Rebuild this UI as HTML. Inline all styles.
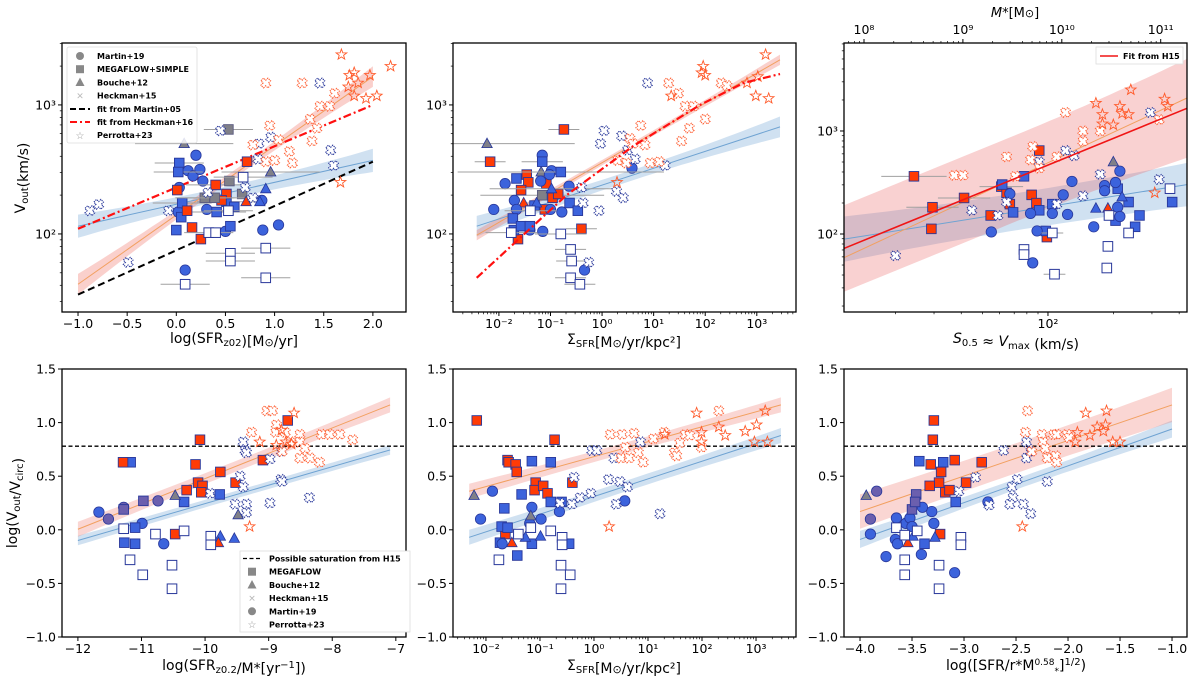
<!DOCTYPE html>
<html><head><meta charset="utf-8">
<style>
html,body{margin:0;padding:0;background:#fff;}
svg{display:block;font-family:"DejaVu Sans","Liberation Sans",sans-serif;}
</style></head>
<body>
<svg id="fig" width="1200" height="687" viewBox="0 0 1200 687" xmlns="http://www.w3.org/2000/svg">
<defs>
<clipPath id="c1"><rect x="62" y="43" width="344" height="269"/></clipPath>
<clipPath id="c2"><rect x="453" y="43" width="343" height="269"/></clipPath>
<clipPath id="c3"><rect x="844" y="43" width="343" height="269"/></clipPath>
<clipPath id="c4"><rect x="62" y="369" width="344" height="268"/></clipPath>
<clipPath id="c5"><rect x="453" y="369" width="343" height="268"/></clipPath>
<clipPath id="c6"><rect x="844" y="369" width="343" height="268"/></clipPath>
</defs>
</svg>
<script>
// ---------- DATA (x, y in axis units; log10 where axis is log) ----------
const p1Points = [
 [0.03,2.36,'bc'],[0.20,2.61,'bc'],[0.12,2.49,'bc'],[0.17,2.45,'bc'],[0.24,2.50,'bc'],[0.27,2.41,'bc'],[0.31,2.19,'bc'],[0.02,2.17,'bc'],[0.50,2.02,'bc'],[0.88,2.03,'bc'],[1.04,2.07,'bc'],[0.87,2.26,'bc'],[0.09,1.72,'bc'],
 [0.03,2.55,'bs',0.25],[0.02,2.48,'bs',0.25],[0.06,2.24,'bs',0.3],[0.05,2.13,'bs'],[0.0,2.03,'bs'],[0.41,2.17,'bs',0.3],[0.51,2.25,'bs',0.3],[0.59,2.21,'bs'],[0.55,2.06,'bs'],
 [0.01,2.34,'rs'],[0.11,2.18,'rs'],[0.16,2.05,'rs'],[0.25,1.96,'rs'],[0.40,2.38,'rs',0.3],[0.51,2.31,'rs'],[0.46,2.26,'rs'],[0.72,2.56,'rs'],
 [0.53,2.81,'gs',0.25],[0.54,2.41,'gs'],[0.67,2.31,'gs'],[0.29,2.28,'gs',0.3],[0.39,2.28,'gs',0.3],
 [0.08,2.70,'gt',0.5],[0.96,2.48,'gt',0.5],[0.91,2.35,'bt'],[0.85,2.25,'bt'],[0.71,2.25,'rt'],
 [0.68,2.44,'os',0.3],[0.53,2.18,'os',0.25],[0.33,2.01,'os',0.25],[0.40,2.01,'os'],[0.55,1.85,'os',0.25],[0.55,1.79,'os',0.25],[0.91,1.89,'os',0.25],[0.91,1.66,'os',0.25],[0.09,1.61,'os',0.25],
 [-0.88,2.18,'hb'],[-0.79,2.23,'hb'],[-0.08,2.18,'hb'],[0.45,2.80,'hb'],[0.84,2.70,'hb'],[0.96,2.75,'hb'],[0.70,2.36,'hb'],[0.78,2.28,'hb'],[1.57,2.65,'hb'],[1.60,2.53,'hb'],[1.46,3.17,'hb'],[-0.49,1.78,'hb'],[0.32,2.32,'hb'],[0.83,2.58,'hb'],
 [0.91,3.17,'hr'],[1.28,3.17,'hr'],[1.61,3.09,'hr'],[1.46,2.99,'hr'],[1.56,2.99,'hr'],[1.36,2.89,'hr'],[0.95,2.84,'hr'],[1.04,2.73,'hr'],[0.78,2.69,'hr'],[1.15,2.64,'hr'],[1.18,2.55,'hr'],[1.0,2.57,'hr'],[0.91,2.56,'hr'],[1.43,2.82,'hr'],[1.38,2.72,'hr'],
 [1.68,3.39,'st'],[2.18,3.30,'st'],[1.76,3.23,'st'],[1.81,3.25,'st'],[1.97,3.23,'st'],[1.85,3.17,'st'],[1.75,3.14,'st'],[1.81,3.07,'st'],[1.93,3.05,'st'],[2.04,3.07,'st'],[1.67,2.40,'st']
];
const p2Points = [
 [-2.23,2.70,'gt',1.7],[-1.18,2.48,'gt',1.5],[-1.16,2.30,'gs',1.2],
 [-2.17,2.56,'rs',0.3],[-0.74,2.81,'rs',0.3],[-1.46,2.46,'rs'],[-1.43,2.40,'rs'],[-1.57,2.34,'rs'],[-1.08,2.39,'rs'],[-0.96,2.28,'rs'],[-0.85,2.31,'rs'],[-1.11,2.19,'rs'],[-0.40,2.04,'rs',0.3],[-1.63,1.96,'rs'],[-1.52,2.24,'rt'],
 [-1.16,2.61,'bc'],[-1.88,2.39,'bc'],[-2.10,2.19,'bc'],[-1.70,2.26,'bc'],[-1.66,2.19,'bc'],[-1.19,2.41,'bc'],[-0.98,2.49,'bc'],[-1.02,2.46,'bc'],[-0.64,2.37,'bc'],[-1.0,2.19,'bc'],[-0.78,2.17,'bc'],[-1.15,2.02,'bc'],[-1.40,2.03,'bc'],[0.58,2.51,'bc'],[-0.34,1.72,'bc'],
 [-1.66,2.43,'bs'],[-1.16,2.56,'bs',0.4],[-0.80,2.48,'bs',2.0],[-1.73,2.12,'bs'],[-1.71,2.03,'bs'],[-1.57,2.06,'bs'],[-1.40,2.06,'bs'],[-0.63,2.24,'bs'],[-0.47,2.18,'bs'],[-1.31,2.22,'bs'],
 [-0.98,2.35,'bt',1.2],[-1.27,2.24,'bt'],
 [-1.39,2.18,'os',0.5],[-1.76,2.01,'os',0.5],[-0.80,2.0,'os',0.5],[-0.61,1.88,'os',0.3],[-0.59,1.79,'os',0.3],[-0.61,1.66,'os',0.3],[-0.43,1.61,'os',0.3],
 [0.88,3.17,'hb'],[0.04,2.80,'hb'],[-0.03,2.70,'hb'],[0.38,2.76,'hb'],[0.49,2.65,'hb'],[0.64,2.58,'hb'],[-0.40,2.36,'hb'],[-0.37,2.24,'hb'],[-0.06,2.18,'hb'],[0.28,2.33,'hb'],[0.41,2.28,'hb'],[1.22,2.53,'hb'],[-0.26,1.78,'hb'],
 [1.29,3.17,'hr'],[1.48,3.09,'hr'],[1.61,2.99,'hr'],[1.77,2.99,'hr'],[2.00,2.89,'hr'],[0.75,2.84,'hr'],[1.69,2.82,'hr'],[1.54,2.72,'hr'],[0.54,2.74,'hr'],[0.60,2.70,'hr'],[0.83,2.69,'hr'],[0.30,2.57,'hr'],[0.47,2.55,'hr'],[0.93,2.55,'hr'],[1.11,2.56,'hr'],[2.31,3.17,'hr'],[2.42,3.15,'hr'],
 [3.17,3.39,'st'],[1.96,3.30,'st'],[1.93,3.25,'st'],[2.0,3.23,'st'],[1.34,3.07,'st'],[2.81,3.17,'st'],[3.02,3.22,'st'],[2.98,3.07,'st'],[3.23,3.05,'st'],[0.29,2.40,'st']
];
const p3Points = [
 [1.385,2.56,'rs',0.15],[1.47,2.26,'rs',0.12],[1.465,2.05,'rs'],[1.615,2.35,'rs',0.12],[1.737,2.18,'rs'],[1.786,2.46,'rs',0.1],[1.81,2.40,'rs'],[1.825,2.29,'rs'],[1.925,2.38,'rs'],[1.947,2.30,'rs'],[1.96,2.81,'rs'],[1.995,1.97,'rs'],
 [1.89,2.56,'bs'],[1.79,2.48,'bs'],[1.84,2.21,'bs'],[1.96,2.23,'bs'],[2.02,2.29,'bs'],[1.99,2.03,'bs'],[2.32,2.44,'bs'],[2.31,2.13,'bs'],[2.37,2.31,'bs'],[2.42,2.18,'bs'],[2.40,2.07,'bs'],[2.57,2.31,'bs'],
 [1.74,2.02,'bc'],[1.825,2.39,'bc'],[1.92,2.20,'bc'],[1.95,2.03,'bc'],[2.02,2.20,'bc'],[2.07,2.38,'bc'],[2.09,2.19,'bc'],[2.11,2.51,'bc'],[2.21,2.07,'bc'],[2.26,2.47,'bc'],[2.26,2.42,'bc'],[2.31,2.50,'bc'],[2.33,2.61,'bc'],[2.32,2.26,'bc'],[2.33,2.17,'bc'],[1.93,1.72,'bc'],
 [2.22,2.25,'bt'],[2.34,2.36,'bt'],[2.275,2.25,'rt'],[2.30,2.70,'gt'],
 [2.02,2.01,'os',0.05],[1.89,1.85,'os'],[1.89,1.80,'os'],[2.03,1.61,'os',0.05],[2.275,1.88,'os'],[2.27,1.67,'os'],[2.28,2.18,'os'],[2.37,2.01,'os'],[2.56,2.44,'os'],
 [1.30,1.79,'hb'],[1.65,2.23,'hb'],[1.77,2.18,'hb'],[2.04,2.29,'hb'],[2.16,2.37,'hb'],[2.08,2.81,'hb'],[2.12,2.76,'hb'],[1.96,2.70,'hb'],[2.24,2.58,'hb'],[2.47,3.18,'hb'],[2.51,2.53,'hb'],[1.81,2.31,'hb'],
 [1.57,2.57,'hr'],[1.61,2.57,'hr'],[1.81,2.75,'hr'],[1.85,2.56,'hr'],[1.93,2.85,'hr'],[1.92,2.72,'hr'],[1.96,2.64,'hr'],[2.04,2.75,'hr'],[2.08,3.18,'hr'],[2.16,3.0,'hr'],[2.16,2.90,'hr'],[2.24,3.0,'hr'],[2.51,3.11,'hr'],
 [2.38,3.40,'st'],[2.22,3.27,'st'],[2.25,3.16,'st'],[2.25,3.07,'st'],[2.30,3.06,'st'],[2.33,3.24,'st'],[2.34,3.17,'st'],[2.37,3.16,'st'],[2.535,3.31,'st'],[2.55,3.24,'st'],[2.49,2.40,'st']
];
const p4Points = [
 [-11.67,0.165,'bc'],[-11.52,0.10,'pc'],[-11.28,0.21,'pc'],[-10.74,0.27,'pc'],[-10.99,0.06,'bc'],[-10.65,-0.13,'bc'],
 [-10.97,0.27,'ps'],[-11.28,0.19,'ps'],
 [-11.17,0.63,'bs'],[-11.10,0.02,'bs'],[-11.27,-0.12,'bs'],[-11.10,-0.13,'bs'],[-10.33,0.26,'bs'],[-9.77,0.33,'bs'],
 [-11.29,0.63,'rs'],[-10.08,0.84,'rs'],[-10.15,0.61,'rs'],[-10.11,0.44,'rs'],[-10.04,0.41,'rs'],[-10.06,0.35,'rs'],[-10.29,0.37,'rs'],[-9.76,0.54,'rs'],[-9.52,0.44,'rs'],[-9.09,0.65,'rs'],[-8.70,1.02,'rs'],[-10.47,-0.04,'rs'],
 [-10.47,0.32,'gt'],[-9.48,0.14,'gt'],[-9.76,-0.06,'bt'],[-9.54,-0.08,'bt'],[-9.79,-0.12,'rt'],
 [-11.28,0.01,'os'],[-11.18,-0.28,'os'],[-10.98,-0.42,'os'],[-10.78,-0.04,'os'],[-10.33,-0.01,'os'],[-10.52,-0.33,'os'],[-10.52,-0.55,'os'],[-9.91,-0.06,'os'],[-9.91,-0.14,'os'],
 [-9.40,0.82,'hb'],[-9.37,0.74,'hb'],[-9.35,0.72,'hb'],[-9.45,0.50,'hb'],[-9.40,0.40,'hb'],[-9.35,0.24,'hb'],[-9.53,0.24,'hb'],[-9.35,0.16,'hb'],[-9.92,0.34,'hb'],[-8.98,0.66,'hb'],[-8.81,0.47,'hb'],[-8.79,0.45,'hb'],[-8.98,0.25,'hb'],[-8.36,0.30,'hb'],[-8.80,0.73,'hb'],
 [-9.27,0.91,'hr'],[-9.03,1.11,'hr'],[-8.94,1.11,'hr'],[-8.88,0.98,'hr'],[-8.89,0.91,'hr'],[-8.74,0.91,'hr'],[-8.66,0.82,'hr'],[-8.51,0.89,'hr'],[-8.51,0.82,'hr'],[-8.43,0.76,'hr'],[-8.51,0.67,'hr'],[-8.35,0.67,'hr'],[-8.20,0.63,'hr'],[-8.17,0.89,'hr'],[-8.04,0.89,'hr'],[-7.88,0.89,'hr'],[-7.68,0.84,'hr'],[-8.79,0.73,'hr'],
 [-8.60,1.09,'st'],[-9.14,0.82,'st'],[-8.88,0.79,'st'],[-8.73,0.82,'st'],[-9.30,0.03,'st'],[-8.80,0.93,'st'],[-8.64,0.80,'st']
];
const p5Points = [
 [-2.17,1.02,'rs'],[-0.73,0.84,'rs'],[-1.60,0.65,'rs'],[-1.58,0.63,'rs'],[-1.45,0.61,'rs'],[-1.43,0.54,'rs'],[-1.08,0.44,'rs'],[-1.10,0.37,'rs'],[-0.94,0.41,'rs'],[-0.86,0.34,'rs'],[-0.40,0.44,'rs'],[-1.64,-0.04,'rs'],
 [-1.15,0.64,'bs'],[-0.80,0.63,'bs'],[-1.34,0.33,'bs'],[-1.66,0.20,'bs'],[-0.80,0.26,'bs'],[-0.60,0.26,'bs'],[-1.71,0.03,'bs'],[-1.60,0.02,'bs'],[-1.74,-0.12,'bs'],[-1.15,-0.13,'bs'],[-1.42,-0.24,'bs'],[-0.46,-0.13,'bs'],
 [-1.88,0.36,'bc'],[-2.10,0.10,'bc'],[-1.15,0.21,'bc'],[-1.19,0.06,'bc'],[-0.98,0.10,'bc'],[-0.64,0.17,'bc'],[-1.70,-0.13,'bc'],[0.57,0.27,'bc'],
 [-2.22,0.32,'gt'],[-1.17,0.13,'gt'],[-1.27,-0.07,'bt'],[-0.99,-0.06,'bt'],[-1.52,-0.12,'rt'],
 [-1.76,-0.28,'os'],[-1.40,-0.04,'os'],[-1.17,0.02,'os'],[-0.80,-0.01,'os'],[-0.59,-0.07,'os'],[-0.59,-0.14,'os'],[-0.61,-0.33,'os'],[-0.44,-0.42,'os'],[-0.61,-0.55,'os'],
 [-0.04,0.74,'hb'],[0.05,0.74,'hb'],[0.37,0.67,'hb'],[0.86,0.82,'hb'],[0.27,0.47,'hb'],[0.48,0.45,'hb'],[0.62,0.40,'hb'],[-0.37,0.49,'hb'],[-0.06,0.34,'hb'],[-0.26,0.30,'hb'],[-0.41,0.24,'hb'],[-0.63,0.25,'hb'],[0.41,0.24,'hb'],[1.22,0.15,'hb'],
 [0.30,0.89,'hr'],[0.52,0.89,'hr'],[0.74,0.90,'hr'],[1.10,0.85,'hr'],[1.30,0.91,'hr'],[1.69,0.89,'hr'],[1.77,0.88,'hr'],[2.31,1.11,'hr'],[0.58,0.77,'hr'],[0.82,0.72,'hr'],[0.91,0.63,'hr'],[0.50,0.67,'hr'],[0.65,0.67,'hr'],[1.49,0.72,'hr'],[1.53,0.69,'hr'],[1.99,0.77,'hr'],[1.59,0.81,'hr'],
 [1.90,1.09,'st'],[3.17,1.11,'st'],[3.01,0.98,'st'],[2.31,0.96,'st'],[2.43,0.88,'st'],[2.80,0.92,'st'],[1.99,0.91,'st'],[1.99,0.82,'st'],[1.31,0.89,'st'],[2.97,0.82,'st'],[3.21,0.82,'st'],[0.28,0.03,'st']
];
const p6Points = [
 [-3.94,0.32,'gt'],[-3.84,0.36,'pc'],[-3.90,0.10,'pc'],
 [-3.90,-0.04,'bc'],[-3.75,-0.25,'bc'],[-3.65,0.11,'bc'],[-3.66,-0.09,'bc'],[-3.64,-0.13,'bc'],[-3.56,0.06,'bc'],[-3.52,0.11,'bc'],[-3.50,0.03,'bc'],[-3.40,0.21,'bc'],[-3.31,0.17,'bc'],[-3.29,0.06,'bc'],[-3.41,-0.23,'bc'],[-3.09,-0.40,'bc'],[-2.77,0.26,'bc'],
 [-3.50,0.19,'ps'],[-3.46,0.33,'ps'],[-3.47,0.26,'ps'],
 [-3.43,0.64,'bs'],[-3.20,0.63,'bs'],[-3.08,0.26,'bs'],[-3.38,-0.13,'bs'],
 [-3.29,1.02,'rs'],[-3.30,0.84,'rs'],[-3.32,0.61,'rs'],[-3.22,0.54,'rs'],[-3.24,0.44,'rs'],[-3.33,0.41,'rs'],[-3.18,0.35,'rs'],[-3.14,0.37,'rs'],[-3.09,0.65,'rs'],[-2.83,0.63,'rs'],[-2.98,0.44,'rs'],[-3.23,-0.04,'rs'],
 [-3.49,-0.06,'bt'],[-3.28,-0.07,'bt'],[-3.54,-0.12,'rt'],
 [-3.65,0.02,'os'],[-3.57,-0.05,'os'],[-3.45,-0.01,'os'],[-3.57,-0.28,'os'],[-3.57,-0.42,'os'],[-3.24,-0.33,'os'],[-3.24,-0.55,'os'],[-3.03,-0.07,'os'],[-3.03,-0.14,'os'],
 [-2.62,0.74,'hb'],[-2.40,0.82,'hb'],[-2.36,0.73,'hb'],[-2.40,0.67,'hb'],[-2.49,0.47,'hb'],[-2.54,0.40,'hb'],[-2.53,0.30,'hb'],[-2.56,0.24,'hb'],[-2.43,0.24,'hb'],[-2.36,0.15,'hb'],[-2.20,0.45,'hb'],[-2.76,0.23,'hb'],[-2.89,0.49,'hb'],[-3.05,0.36,'hb'],
 [-2.39,1.11,'hr'],[-2.41,0.91,'hr'],[-2.25,0.89,'hr'],[-2.24,0.82,'hr'],[-2.14,0.89,'hr'],[-2.11,0.89,'hr'],[-2.01,0.89,'hr'],[-1.99,0.86,'hr'],[-2.22,0.76,'hr'],[-2.20,0.67,'hr'],[-2.12,0.69,'hr'],[-2.11,0.63,'hr'],[-2.35,0.73,'hr'],
 [-1.83,1.09,'st'],[-1.63,1.11,'st'],[-1.72,0.96,'st'],[-1.64,0.98,'st'],[-1.66,0.92,'st'],[-1.79,0.88,'st'],[-1.91,0.91,'st'],[-1.93,0.82,'st'],[-1.57,0.82,'st'],[-1.50,0.82,'st'],[-2.44,0.03,'st']
];
const p1OrangeFit = [-1.0, 1.61, 2.0, 3.22], p1OrangeBand = [0.08, 0.03, 0.08];
const p1BlueFit = [-1.0, 2.06, 2.0, 2.57], p1BlueBand = [0.09, 0.05, 0.09];
const p1Martin05 = [-1.0, 1.53, 2.0, 2.56];
const p1Heckman16 = [-1.0, 2.04, 2.0, 3.0];
const p2OrangeFit = [-2.43, 1.99, 3.45, 3.35], p2OrangeBand = [0.04, 0.02, 0.04];
const p2BlueFit = [-2.43, 2.06, 3.45, 2.83], p2BlueBand = [0.08, 0.04, 0.08];
const p2HeckmanX = [-2.43, -0.69, 0.60, 1.90, 2.74, 3.45];
const p2HeckmanY = [1.66, 2.30, 2.68, 3.0, 3.17, 3.24];
const p3OrangeFit = [1.064, 1.77, 2.638, 3.32];
const p3RedFit = [1.064, 1.86, 2.638, 3.22], p3RedBand = [0.42, 0.42, 0.48];
const p3BlueFit = [1.064, 1.95, 2.638, 2.48], p3BlueBand = [0.22, 0.18, 0.21];
const p4OrangeFit = [-12, 0.005, -7.09, 1.165], p4OrangeBand = [0.07, 0.05, 0.07];
const p4BlueFit = [-12, -0.10, -7.09, 0.745], p4BlueBand = [0.045, 0.035, 0.045];
const p5OrangeFit = [-2.31, 0.36, 3.46, 1.165], p5OrangeBand = [0.07, 0.05, 0.07];
const p5BlueFit = [-2.31, -0.07, 3.46, 0.88], p5BlueBand = [0.07, 0.05, 0.07];
const p6OrangeFit = [-4, 0.17, -1, 1.165], p6OrangeBand = [0.16, 0.14, 0.16];
const p6BlueFit = [-4, -0.09, -1, 0.94], p6BlueBand = [0.08, 0.05, 0.08];
const saturationLevel = 0.78;
const p1XTicks = [-1.0, -0.5, 0.0, 0.5, 1.0, 1.5, 2.0];
const p1XTickLabels = ['−1.0','−0.5','0.0','0.5','1.0','1.5','2.0'];
const logYTicks = [2, 3], logYTickLabels = ['10²','10³'];
const sigmaTicks = [-2,-1,0,1,2,3], sigmaTickLabels = ['10⁻²','10⁻¹','10⁰','10¹','10²','10³'];
const p3XTicks = [2], p3XTickLabels = ['10²'];
const massTicks = [8,9,10,11], massTickLabels = ['10⁸','10⁹','10¹⁰','10¹¹'];
const ratioTicks = [-1.0,-0.5,0.0,0.5,1.0,1.5], ratioTickLabels = ['−1.0','−0.5','0.0','0.5','1.0','1.5'];
const p4XTicks = [-12,-11,-10,-9,-8,-7], p4XTickLabels = ['−12','−11','−10','−9','−8','−7'];
const p6XTicks = [-4.0,-3.5,-3.0,-2.5,-2.0,-1.5,-1.0], p6XTickLabels = ['−4.0','−3.5','−3.0','−2.5','−2.0','−1.5','−1.0'];

// ---------- RENDERING ----------
const NS = 'http://www.w3.org/2000/svg';
const svg = document.getElementById('fig');
function el(tag, attrs, parent){ const e = document.createElementNS(NS, tag); for (const k in attrs) e.setAttribute(k, attrs[k]); (parent||svg).appendChild(e); return e; }
function panel(id, box, xd, yd){
  const p = {id, x0:box[0], y0:box[1], x1:box[2], y1:box[3], xd, yd};
  p.sx = v => p.x0 + (v - xd[0]) / (xd[1] - xd[0]) * (p.x1 - p.x0);
  p.sy = v => p.y1 - (v - yd[0]) / (yd[1] - yd[0]) * (p.y1 - p.y0);
  p.g = el('g', {});
  
  
  p.plot = el('g', {'clip-path':'url(#c'+id+')'}, p.g);
  
  
  return p;
}
const BLUE='#3c63dc', EDGE='#28379a', RED='#ff3b05', GRAY='#808088', PURP='#6b5fae', HRED='#ff5f33', STAR='#ff5a2a';
function marker(p, pt){
  const x = p.sx(pt[0]), y = p.sy(pt[1]), t = pt[2];
  const g = p.plot;
  if (pt[3]) { const e = el('line', {x1:p.sx(pt[0]-pt[3]), x2:p.sx(pt[0]+pt[3]), y1:y, y2:y, stroke:'#a0a0a0', 'stroke-width':1}, g);
      }
  let m;
  if (t==='bc'||t==='pc') m = el('circle', {cx:x, cy:y, r:5.2, fill: t==='bc'?BLUE:PURP, stroke:EDGE, 'stroke-width':0.8}, g);
  else if (['bs','rs','gs','ps','os'].includes(t)) {
    const f = {bs:BLUE, rs:RED, gs:GRAY, ps:PURP, os:'#fff'}[t];
    m = el('rect', {x:x-4.8, y:y-4.8, width:9.6, height:9.6, fill:f, stroke: t==='gs'?'#5a5a80':EDGE, 'stroke-width': t==='os'?1:0.9}, g);
  } else if (t==='bt'||t==='rt'||t==='gt') {
    const f = {bt:BLUE, rt:RED, gt:GRAY}[t];
    m = el('polygon', {points:`${x},${y-5.5} ${x+5.2},${y+4} ${x-5.2},${y+4}`, fill:f, stroke:EDGE, 'stroke-width':0.8}, g);
  } else if (t==='hb'||t==='hr') {
    const a=5, b=1.9, pts=[[b,a],[b,b],[a,b],[a,-b],[b,-b],[b,-a],[-b,-a],[-b,-b],[-a,-b],[-a,b],[-b,b],[-b,a]];
    const c = Math.SQRT1_2;
    m = el('polygon', {points: pts.map(q=>`${(x+(q[0]-q[1])*c).toFixed(1)},${(y+(q[0]+q[1])*c).toFixed(1)}`).join(' '), fill:'#fff', stroke: t==='hb'?EDGE:HRED, 'stroke-width':1.1, 'stroke-dasharray':'1.3 0.9'}, g);
  } else if (t==='st') {
    let s=''; for (let i=0;i<10;i++){ const r = i%2?2.3:5.6, ang = -Math.PI/2 + i*Math.PI/5; s += `${(x+r*Math.cos(ang)).toFixed(1)},${(y+r*Math.sin(ang)).toFixed(1)} `; }
    m = el('polygon', {points:s, fill:'none', stroke:STAR, 'stroke-width':0.9}, g);
  }
  
  
}
function band(p, fit, hw, color, name){
  const N = 40, up = [], lo = [];
  for (let i=0;i<=N;i++){ const f=i/N, x = fit[0]+(fit[2]-fit[0])*f, y = fit[1]+(fit[3]-fit[1])*f;
    const h = hw[1] + (f<0.5 ? (hw[0]-hw[1])*Math.pow(1-2*f,2) : (hw[2]-hw[1])*Math.pow(2*f-1,2));
    up.push(`${p.sx(x).toFixed(1)},${p.sy(y+h).toFixed(1)}`); lo.unshift(`${p.sx(x).toFixed(1)},${p.sy(y-h).toFixed(1)}`); }
  const e = el('polygon', {points: up.concat(lo).join(' '), fill:color}, p.plot);
   
}
function fitLine(p, fit, color, w, dash, name){
  const e = el('line', {x1:p.sx(fit[0]), y1:p.sy(fit[1]), x2:p.sx(fit[2]), y2:p.sy(fit[3]), stroke:color, 'stroke-width':w}, p.plot);
  if (dash) e.setAttribute('stroke-dasharray', dash);
   
}
function frame(p){
  const r = el('rect', {x:p.x0, y:p.y0, width:p.x1-p.x0, height:p.y1-p.y0, fill:'none', stroke:'#000', 'stroke-width':1.3}, p.g);
   
}
function xTicks(p, vals, labels, minorLog){
  vals.forEach((v,i)=>{ const x=p.sx(v); el('line',{x1:x,x2:x,y1:p.y1,y2:p.y1+4,stroke:'#000','stroke-width':1},p.g);
    const t = el('text',{x:x,y:p.y1+16,'font-size':12.5,'text-anchor':'middle'},p.g); t.textContent = labels[i];
      });
  if (minorLog) for (let d=Math.floor(p.xd[0]); d<p.xd[1]; d++) for (let k=2;k<10;k++){ const v=d+Math.log10(k); if (v>p.xd[0]&&v<p.xd[1]) { const x=p.sx(v); el('line',{x1:x,x2:x,y1:p.y1,y2:p.y1+2.2,stroke:'#000','stroke-width':0.7},p.g);} }
}
function yTicks(p, vals, labels, minorLog){
  vals.forEach((v,i)=>{ const y=p.sy(v); el('line',{x1:p.x0-4,x2:p.x0,y1:y,y2:y,stroke:'#000','stroke-width':1},p.g);
    const t = el('text',{x:p.x0-6,y:y+4.5,'font-size':12.5,'text-anchor':'end'},p.g); t.textContent = labels[i];
      });
  if (minorLog) for (let d=Math.floor(p.yd[0]); d<p.yd[1]; d++) for (let k=2;k<10;k++){ const v=d+Math.log10(k); if (v>p.yd[0]&&v<p.yd[1]) { const y=p.sy(v); el('line',{x1:p.x0-2.2,x2:p.x0,y1:y,y2:y,stroke:'#000','stroke-width':0.7},p.g);} }
}
function label(p, html, x, y, rot, name, size){
  const t = el('text', {x, y, 'font-size': size||14, 'text-anchor':'middle'}, p.g);
  if (rot) t.setAttribute('transform', `rotate(-90 ${x} ${y})`);
  t.innerHTML = html;
   
}
const sub = s => `<tspan dy="3" font-size="10">${s}</tspan><tspan dy="-3"></tspan>`;

// Panel 1
const P1 = panel(1, [62,43,406,312], [-1.163,2.337], [1.395,3.48]);
band(P1, p1BlueFit, p1BlueBand, 'rgba(120,170,215,0.35)', 'blue-fit-band');
band(P1, p1OrangeFit, p1OrangeBand, 'rgba(240,120,110,0.35)', 'orange-fit-band');
fitLine(P1, p1BlueFit, '#6fa3d2', 1, null, 'blue-fit-line');
fitLine(P1, p1OrangeFit, '#f2a060', 1, null, 'orange-fit-line');
fitLine(P1, p1Martin05, '#000', 2, '7 4', 'martin05-fit-line');
fitLine(P1, p1Heckman16, '#ff1010', 2.2, '8 3 2 3', 'heckman16-fit-line');
p1Points.forEach(pt=>marker(P1, pt));
frame(P1); xTicks(P1, p1XTicks, p1XTickLabels); yTicks(P1, logYTicks, logYTickLabels, true);
label(P1, 'log(SFR'+sub('z02')+')[M<tspan font-size="11">⊙</tspan>/yr]', 234, 343, false, 'x-axis-title');
label(P1, 'V'+sub('out')+'(km/s)', 25, 178, true, 'y-axis-title');
(function(){
  const g = el('g', {}, P1.g);  
  el('rect',{x:67,y:47,width:130,height:96,rx:2,fill:'rgba(255,255,255,0.85)',stroke:'#ddd','stroke-width':0.8},g);
  const items = ['Martin+19','MEGAFLOW+SIMPLE','Bouche+12','Heckman+15','fit from Martin+05','fit from Heckman+16','Perrotta+23'];
  items.forEach((s,i)=>{ const y = 56 + i*13.2;
    const t = el('text',{x:97,y:y+3,'font-size':8,'font-weight':'bold'},g); t.textContent = s;
      });
  el('circle',{cx:80,cy:56,r:4,fill:'#888'},g);
  el('rect',{x:76,y:65.2,width:8,height:8,fill:'#888'},g);
  el('polygon',{points:'80,77.5 84.5,86 75.5,86',fill:'#888'},g);
  el('text',{x:80,y:99,'font-size':9,'text-anchor':'middle',fill:'#bbb'},g).textContent='✕';
  el('line',{x1:70,x2:90,y1:109,y2:109,stroke:'#000','stroke-width':2,'stroke-dasharray':'6 3'},g);
  el('line',{x1:70,x2:90,y1:122,y2:122,stroke:'#ff1010','stroke-width':2,'stroke-dasharray':'7 3 2 3'},g);
  el('text',{x:80,y:139,'font-size':10,'text-anchor':'middle',fill:'#999'},g).textContent='☆';
})();

// Panel 2
const P2 = panel(2, [453,43,796,312], [-2.89,3.76], [1.395,3.48]);
band(P2, p2BlueFit, p2BlueBand, 'rgba(120,170,215,0.35)', 'blue-fit-band');
band(P2, p2OrangeFit, p2OrangeBand, 'rgba(240,120,110,0.35)', 'orange-fit-band');
fitLine(P2, p2BlueFit, '#6fa3d2', 1, null, 'blue-fit-line');
fitLine(P2, p2OrangeFit, '#f2a060', 1, null, 'orange-fit-line');
p2Points.forEach(pt=>marker(P2, pt));
(function(){ const e = el('polyline',{points: p2HeckmanX.map((v,i)=>`${P2.sx(v).toFixed(1)},${P2.sy(p2HeckmanY[i]).toFixed(1)}`).join(' '), fill:'none', stroke:'#ff1010','stroke-width':2.2,'stroke-dasharray':'8 3 2 3'}, P2.plot);
    })();
frame(P2); xTicks(P2, sigmaTicks, sigmaTickLabels, true); yTicks(P2, logYTicks, logYTickLabels, true);
label(P2, 'Σ'+sub('SFR')+'[M<tspan font-size="11">⊙</tspan>/yr/kpc²]', 624, 344, false, 'x-axis-title');

// Panel 3
const P3 = panel(3, [844,43,1187,312], [1.064,2.638], [1.243,3.854]);
band(P3, p3BlueFit, p3BlueBand, 'rgba(120,170,215,0.35)', 'blue-fit-band');
band(P3, p3RedFit, p3RedBand, 'rgba(235,90,90,0.28)', 'red-fit-band');
fitLine(P3, p3BlueFit, '#6fa3d2', 1, null, 'blue-fit-line');
fitLine(P3, p3OrangeFit, '#f2a060', 1, null, 'orange-fit-line');
p3Points.forEach(pt=>marker(P3, pt));
fitLine(P3, p3RedFit, '#f01515', 1.6, null, 'h15-fit-line');
frame(P3); xTicks(P3, p3XTicks, p3XTickLabels, true); yTicks(P3, logYTicks, logYTickLabels, true);
(function(){ const mx = m => 864 + (m-8)*98.9;
  massTicks.forEach((m,i)=>{ el('line',{x1:mx(m),x2:mx(m),y1:43,y2:39,stroke:'#000'},P3.g);
    const t = el('text',{x:mx(m),y:34,'font-size':12.5,'text-anchor':'middle'},P3.g); t.textContent = massTickLabels[i];
      });
  for (let d=7; d<12; d++) for (let k=2;k<10;k++){ const x = mx(d+Math.log10(k)); if (x>844&&x<1187) el('line',{x1:x,x2:x,y1:43,y2:41,stroke:'#000','stroke-width':0.7},P3.g); }
})();
label(P3, '<tspan font-style="italic">M</tspan>*[M<tspan font-size="11">⊙</tspan>]', 1015, 17, false, 'top-axis-title', 13);
label(P3, '<tspan font-style="italic">S</tspan>'+sub('0.5')+' ≈ <tspan font-style="italic">V</tspan>'+sub('max')+' (km/s)', 1016, 343, false, 'x-axis-title');
(function(){ const g = el('g',{},P3.g);  
  el('rect',{x:1096,y:47,width:87,height:17,fill:'#fff',stroke:'#ddd','stroke-width':0.8},g);
  el('line',{x1:1100,x2:1118,y1:56,y2:56,stroke:'#f01515','stroke-width':1.6},g);
  const t = el('text',{x:1123,y:59,'font-size':8,'font-weight':'bold'},g); t.textContent='Fit from H15';
    })();

// Bottom panels
function bottom(P, pts, of, ob, bf, bb, ticks, labels, minorLog){
  band(P, bf, bb, 'rgba(120,170,215,0.35)', 'blue-fit-band');
  band(P, of, ob, 'rgba(240,120,110,0.3)', 'orange-fit-band');
  fitLine(P, bf, '#6fa3d2', 1, null, 'blue-fit-line');
  fitLine(P, of, '#f2a060', 1, null, 'orange-fit-line');
  fitLine(P, [P.xd[0], saturationLevel, P.xd[1], saturationLevel], '#000', 1.3, '4 2.5', 'saturation-line');
  pts.forEach(pt=>marker(P, pt));
  frame(P); xTicks(P, ticks, labels, minorLog); yTicks(P, ratioTicks, ratioTickLabels);
}
const P4 = panel(4, [62,369,406,637], [-12.25,-6.84], [-1,1.5]);
bottom(P4, p4Points, p4OrangeFit, p4OrangeBand, p4BlueFit, p4BlueBand, p4XTicks, p4XTickLabels);
label(P4, 'log(SFR'+sub('z0.2')+'/M*[yr<tspan dy="-5" font-size="10">−1</tspan><tspan dy="5">])</tspan>', 234, 670, false, 'x-axis-title');
label(P4, 'log(V'+sub('out')+'/V'+sub('circ')+')', 17, 503, true, 'y-axis-title');
(function(){ const g = el('g',{},P4.g);  
  el('rect',{x:240,y:551,width:170,height:81,fill:'#fff',stroke:'#ddd','stroke-width':0.8},g);
  const items = ['Possible saturation from H15','MEGAFLOW','Bouche+12','Heckman+15','Martin+19','Perrotta+23'];
  items.forEach((s,i)=>{ const y = 558.5+i*13.2;
    const t = el('text',{x:269,y:y+3,'font-size':8,'font-weight':'bold'},g); t.textContent=s;
      });
  el('line',{x1:243,x2:261,y1:558.5,y2:558.5,stroke:'#000','stroke-width':1.3,'stroke-dasharray':'4 2.5'},g);
  el('rect',{x:248,y:567.7,width:8,height:8,fill:'#888'},g);
  el('polygon',{points:'252,580 256.5,588.5 247.5,588.5',fill:'#888'},g);
  el('text',{x:252,y:601.5,'font-size':9,'text-anchor':'middle',fill:'#bbb'},g).textContent='✕';
  el('circle',{cx:252,cy:611.3,r:4,fill:'#888'},g);
  el('text',{x:252,y:628,'font-size':10,'text-anchor':'middle',fill:'#999'},g).textContent='☆';
})();
const P5 = panel(5, [453,369,796,637], [-2.61,3.74], [-1,1.5]);
bottom(P5, p5Points, p5OrangeFit, p5OrangeBand, p5BlueFit, p5BlueBand, sigmaTicks, sigmaTickLabels, true);
label(P5, 'Σ'+sub('SFR')+'[M<tspan font-size="11">⊙</tspan>/yr/kpc²]', 624, 670, false, 'x-axis-title');
const P6 = panel(6, [844,369,1187,637], [-4.154,-0.856], [-1,1.5]);
bottom(P6, p6Points, p6OrangeFit, p6OrangeBand, p6BlueFit, p6BlueBand, p6XTicks, p6XTickLabels);
label(P6, 'log([SFR/r*M<tspan dy="-5" font-size="9">0.58</tspan><tspan dy="9" font-size="9">*</tspan><tspan dy="-4">]</tspan><tspan dy="-5" font-size="10">1/2</tspan><tspan dy="5">)</tspan>', 1016, 670, false, 'x-axis-title');
</script>
</body></html>
